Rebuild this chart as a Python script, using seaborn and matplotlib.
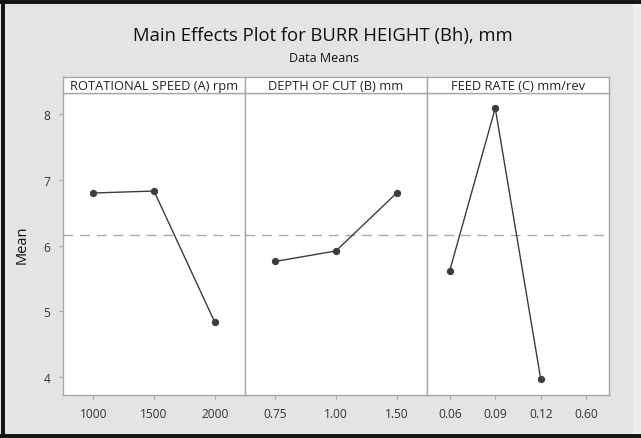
import matplotlib
matplotlib.use('Agg')
import matplotlib.pyplot as plt
import seaborn as sns
import pandas as pd
from matplotlib.patches import Rectangle
from matplotlib.lines import Line2D

# ---- data ----
speed_levels = ['1000', '1500', '2000']
speed_means = [6.80, 6.83, 4.84]
depth_levels = ['0.75', '1.00', '1.50']
depth_means = [5.76, 5.92, 6.80]
feed_levels = ['0.06', '0.09', '0.12', '0.60']
feed_means = [5.62, 8.09, 3.97]          # no mean plotted for 0.60
grand_mean = 6.16
panel_titles = ['ROTATIONAL SPEED (A) rpm', 'DEPTH OF CUT (B) mm', 'FEED RATE (C) mm/rev']
y_ticks = [4, 5, 6, 7, 8]

sns.set_theme(style='white')
plt.rcParams['font.family'] = ['Open Sans', 'DejaVu Sans']

BG = '#e4e4e4'
EDGE = '#a8a8a8'
TXT = '#333333'
LINE = '#3c3c3c'

fig = plt.figure(figsize=(6.41, 4.39), dpi=100, facecolor=BG)

# lighter strip at the right edge
fig.patches.append(Rectangle((633/641, 0), 8/641, 1, transform=fig.transFigure,
                             facecolor='#eeeeee', edgecolor='none', zorder=0))
# dark frame lines: left, top, bottom
for xs, ys in [([3/641, 3/641], [0, 1]),
               ([0, 1], [1 - 3/439, 1 - 3/439]),
               ([0, 1], [2.5/439, 2.5/439])]:
    fig.lines.append(Line2D(xs, ys, transform=fig.transFigure, color='#111111',
                            lw=2.8, zorder=5))

fig.text(323/641, 1 - 36/439, 'Main Effects Plot for BURR HEIGHT (Bh), mm',
         ha='center', va='center', fontsize=13.3, color='#111111')
fig.text(324/641, 1 - 58/439, 'Data Means', ha='center', va='center',
         fontsize=9, color='#111111')

datasets = [
    (speed_levels, speed_levels, speed_means),
    (depth_levels, depth_levels, depth_means),
    (feed_levels, feed_levels[:len(feed_means)], feed_means),
]

left0 = 63/641
pw = 182/641
bottom = 1 - 396/439
top = 1 - 94/439
strip_top = 1 - 78/439

for i, (order, lv, mv) in enumerate(datasets):
    x0 = left0 + i * pw
    ax = fig.add_axes([x0, bottom, pw, top - bottom])
    ax.set_facecolor('white')
    df = pd.DataFrame({'level': lv, 'mean': mv})
    ax.axhline(grand_mean, color='#a9a9a9', lw=1.0, ls=(0, (7, 5)), zorder=1)
    sns.pointplot(data=df, x='level', y='mean', order=order, color=LINE,
                  errorbar=None, markers='o', markersize=4.5, linewidth=1.0,
                  ax=ax, zorder=3)
    ax.set_xlim(-0.5, len(order) - 0.5)
    ax.set_ylim(3.73, 8.32)
    ax.set_yticks(y_ticks)
    ax.set_xlabel('')
    ax.set_ylabel('')
    for s in ax.spines.values():
        s.set_color(EDGE)
        s.set_linewidth(1.0)
    ax.tick_params(axis='x', length=3, width=0.8, color=EDGE, labelsize=8.6,
                   labelcolor=TXT, pad=6, direction='out', bottom=True)
    if i == 0:
        ax.tick_params(axis='y', length=3, width=0.8, color=EDGE, labelsize=8.6,
                       labelcolor=TXT, pad=6, direction='out', left=True)
        ax.set_ylabel('Mean', fontsize=10.5, color='#111111', labelpad=10)
    else:
        ax.tick_params(axis='y', left=False, labelleft=False)

    sax = fig.add_axes([x0, top, pw, strip_top - top])
    sax.set_facecolor('white')
    sax.set_xticks([])
    sax.set_yticks([])
    for s in sax.spines.values():
        s.set_color(EDGE)
        s.set_linewidth(1.0)
    sax.text(0.5, 0.45, panel_titles[i], ha='center', va='center',
             fontsize=9.3, color='#222222', transform=sax.transAxes)

fig.savefig('out.png', dpi=100, facecolor=BG)
